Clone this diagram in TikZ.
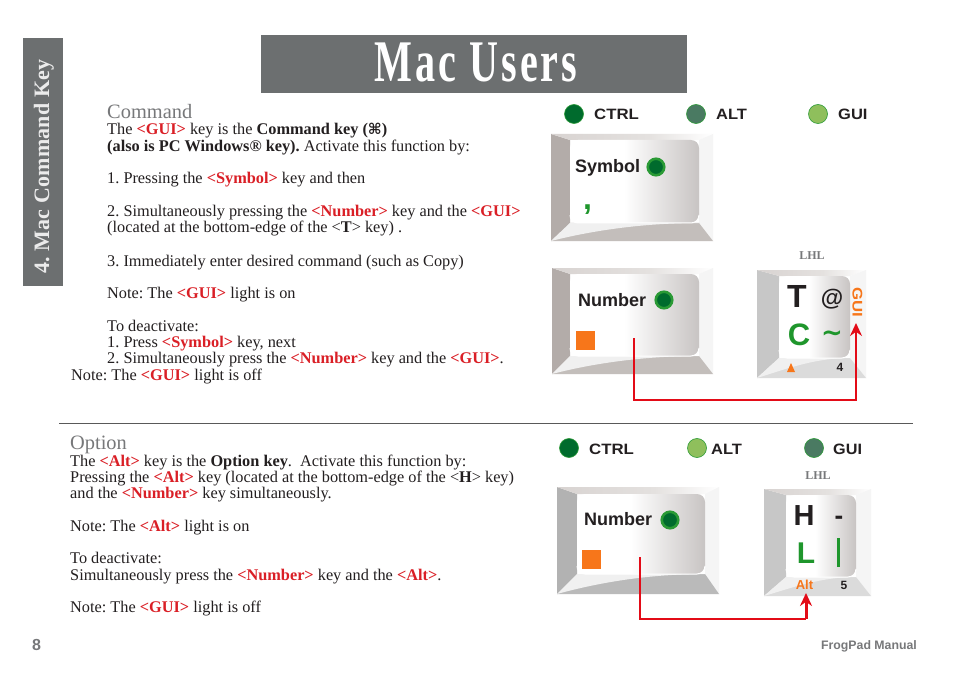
\documentclass[tikz,border=0pt]{standalone}
\usepackage{fontspec}
\usepackage{graphicx}
\setmainfont{Liberation Serif}
\setsansfont{Liberation Sans}
\newfontfamily\symfont{DejaVu Sans}
\usetikzlibrary{arrows.meta}
\AtBeginDocument{\frenchspacing}
\definecolor{ink}{HTML}{231F20}
\definecolor{redtxt}{HTML}{DA1F26}
\definecolor{barfill}{HTML}{6C6F70}
\definecolor{headgray}{HTML}{77787A}
\definecolor{ledframe}{HTML}{2A9A35}
\definecolor{leddark}{HTML}{006B2D}
\definecolor{ledmid}{HTML}{4A7A62}
\definecolor{ledlight}{HTML}{8FBF5C}
\definecolor{keygreen}{HTML}{1F962C}
\definecolor{keyorange}{HTML}{F7761A}
\definecolor{linkred}{HTML}{E30B17}
\definecolor{facegray}{HTML}{C8C4C3}
\definecolor{keyleft}{HTML}{B3ACA9}
\definecolor{keybottom}{HTML}{C3BEBB}
\definecolor{topa}{HTML}{D8D3D1}
\definecolor{topb}{HTML}{E4E1DF}
\pgfdeclarehorizontalshading{keyface}{100bp}{color(0bp)=(white); color(46bp)=(white); color(75bp)=(facegray); color(100bp)=(facegray)}
\pgfdeclarehorizontalshading{keytop}{100bp}{color(0bp)=(topa); color(25bp)=(topa); color(55bp)=(topb); color(75bp)=(white); color(100bp)=(white)}
\newcommand{\rd}[1]{\textcolor{redtxt}{\textbf{#1}}}
% outer x0 y0 x1 y1, inner ix0 iy0 ix1 iy1
\newcommand{\keycap}[8]{%
  \fill[keyleft] (#1,#2) -- (#5,#6) -- (#5,#8) -- (#1,#4) -- cycle;
  \shade[shading=keytop] (#1,#2) -- (#3,#2) -- (#7,#6) -- (#5,#6) -- cycle;
  \fill[white!96!black] (#3,#2) -- (#3,#4) -- (#7,#8) -- (#7,#6) -- cycle;
  \fill[keybottom] (#1,#4) -- (#3,#4) -- (#7,#8) -- (#5,#8) -- cycle;
  \fill[white!94!black] (#1,#4) -- (#5,#8) -- (#7,#8) .. controls ({#5+0.5*(#7-#5)},#8) and ({#5+0.1*(#7-#5)},{#8+0.55*(#4-#8)}) .. (#1,#4) -- cycle;
  \shade[shading=keyface,rounded corners=8pt] (#5,#6) rectangle (#7,#8);
  \draw[white,line width=1pt,rounded corners=8pt] (#5,#8-8) -- (#5,#8) -- (#7,#8) -- (#7,#8-8);
}
\tikzset{
  x=1pt,y=-1pt,
  body/.style={anchor=base west,inner sep=0pt,font=\fontsize{16.3}{17}\selectfont,text=ink},
  headtxt/.style={anchor=base west,inner sep=0pt,font=\fontsize{20.4}{22}\selectfont,text=headgray},
  ledlamp/.style={circle,minimum size=19pt,inner sep=0pt,draw=ledframe,line width=0.6pt,fill=#1},
  keyled/.style={circle,minimum size=16.5pt,inner sep=0pt,draw=ledframe,line width=2.6pt,fill=leddark},
  ledtxt/.style={anchor=base west,inner sep=0pt,font=\sffamily\bfseries\fontsize{15}{16}\selectfont,text=ink},
  keytxt/.style={anchor=base west,inner sep=0pt,font=\sffamily\bfseries\fontsize{18}{20}\selectfont,text=ink},
  lhltxt/.style={anchor=center,inner sep=0pt,font=\bfseries\fontsize{12}{12}\selectfont,text=headgray},
  legend/.style={anchor=center,inner sep=0pt,font=\sffamily\bfseries\fontsize{#1}{#1}\selectfont},
  orangebox/.style={fill=keyorange,inner sep=0pt,minimum size=19pt},
  link/.style={draw=linkred,line width=2pt,-{Stealth[length=13pt,width=12pt]}},
}
\begin{document}
\begin{tikzpicture}
\useasboundingbox (0,0) rectangle (954,682);
\fill[white] (0,0) rectangle (954,682);
% side tab and title
\fill[barfill] (23,38) rectangle (63,286);
\node[rotate=90,anchor=base west,inner sep=0pt,text=white!92!black,font=\bfseries\fontsize{22}{24}\selectfont\addfontfeature{LetterSpace=1}] (tab) at (49,274) {4. Mac Command Key};
\fill[barfill] (261,35) rectangle (687,93);
\node[inner sep=0pt,anchor=base,text=white,font=\bfseries\fontsize{59}{60}\selectfont\addfontfeature{LetterSpace=7.5}] (title) at (476,82) {\scalebox{0.68}[1]{Mac Users}};
% Command text
\node[headtxt] (h1) at (107,119) {Command};
\node[body] (t1) at (107,135) {The \rd{<GUI>} key is the \textbf{Command key (}{\symfont\bfseries\fontsize{15}{15}\selectfont ⌘}\textbf{)}};
\node[body] (t2) at (107,152) {\textbf{(also is PC Windows® key).} Activate this function by:};
\node[body] (t3) at (107,184) {1. Pressing the \rd{<Symbol>} key and then};
\node[body] (t4) at (107,217) {2. Simultaneously pressing the \rd{<Number>} key and the \rd{<GUI>}};
\node[body] (t5) at (107,233) {(located at the bottom-edge of the <\textbf{T}> key) .};
\node[body] (t6) at (107,266) {3. Immediately enter desired command (such as Copy)};
\node[body] (t7) at (107,298) {Note: The \rd{<GUI>} light is on};
\node[body] (t8) at (107,331) {To deactivate:};
\node[body] (t9) at (107,347) {1. Press \rd{<Symbol>} key, next};
\node[body] (t10) at (107,363) {2. Simultaneously press the \rd{<Number>} key and the \rd{<GUI>}.};
\node[body] (t11) at (71,380) {Note: The \rd{<GUI>} light is off};
% rule
\draw[black!65,line width=0.8pt] (59,423.5) -- (913,423.5);
% Option text
\node[headtxt] (h2) at (70,449) {Option};
\node[body] (o1) at (70,466) {The \rd{<Alt>} key is the \textbf{Option key}.\ \ Activate this function by:};
\node[body] (o2) at (70,482) {Pressing the \rd{<Alt>} key (located at the bottom-edge of the <\textbf{H}> key)};
\node[body] (o3) at (70,498) {and the \rd{<Number>} key simultaneously.};
\node[body] (o4) at (70,531) {Note: The \rd{<Alt>} light is on};
\node[body] (o5) at (70,580) {Simultaneously press the \rd{<Number>} key and the \rd{<Alt>}.};
\node[body] (o6) at (70,563) {To deactivate:};
\node[body] (o7) at (70,612) {Note: The \rd{<GUI>} light is off};
% footer
\node[inner sep=0pt,anchor=base west,text=headgray,font=\sffamily\bfseries\fontsize{16}{16}\selectfont] (pg) at (32,650) {8};
\node[inner sep=0pt,anchor=base east,text=headgray,font=\sffamily\bfseries\fontsize{12.3}{13}\selectfont] (fp) at (917,649) {FrogPad Manual};
% indicator row 1
\node[ledlamp=leddark] (l1) at (574,114) {};
\node[ledtxt] (l1t) at (594,120) {\scalebox{1.12}[1]{CTRL}};
\node[ledlamp=ledmid] (l2) at (696,114) {};
\node[ledtxt] (l2t) at (716,120) {\scalebox{1.1}[1]{ALT}};
\node[ledlamp=ledlight] (l3) at (818,114) {};
\node[ledtxt] (l3t) at (838,120) {\scalebox{1.1}[1]{GUI}};
% indicator row 2
\node[ledlamp=leddark] (m1) at (569,448) {};
\node[ledtxt] (m1t) at (589,454) {\scalebox{1.12}[1]{CTRL}};
\node[ledlamp=ledlight] (m2) at (697,448) {};
\node[ledtxt] (m2t) at (711,454) {\scalebox{1.1}[1]{ALT}};
\node[ledlamp=ledmid] (m3) at (814,448) {};
\node[ledtxt] (m3t) at (833,454) {\scalebox{1.08}[1]{GUI}};
% Symbol key
\keycap{551}{134}{713}{241}{570}{140}{699}{223}
\node[keytxt] (symt) at (575,173) {Symbol};
\node[keyled] (symled) at (656,167) {};
\node[anchor=center,inner sep=0pt,text=keygreen,font=\sffamily\bfseries\fontsize{32}{32}\selectfont] (comma) at (587.5,209.5) {,};
% Number key A
\keycap{552}{268}{713}{374}{570}{274}{699}{356}
\node[keytxt] (numt) at (578,306) {Number};
\node[keyled] (numled) at (664,300) {};
\node[orangebox] (numsq) at (585.5,340) {};
% T key
\colorlet{keyleft}{black!22}\colorlet{keybottom}{black!14}
\keycap{757}{270}{866}{378}{779}{276}{850}{358}
\node[anchor=base,inner sep=0pt,text=ink,font=\sffamily\bfseries\fontsize{32}{32}\selectfont] (kT) at (797,307) {T};
\node[legend=23,text=ink] (kAt) at (832,299) {@};
\node[anchor=base,inner sep=0pt,text=keygreen,font=\sffamily\bfseries\fontsize{31}{32}\selectfont] (kC) at (799,345) {C};
\node[legend=26,text=keygreen] (kTi) at (832,336) {\symfont\bfseries \char"7E};
\node[legend=14,text=keyorange,rotate=-90] (kG) at (857.5,302) {\scalebox{1.2}[1]{GUI}};
\fill[keyorange] (787,372) -- (795,372) -- (791,363) -- cycle;
\node[legend=12,text=ink] (k4) at (840,367.5) {4};
% Number key B
\colorlet{keyleft}{black!30}\colorlet{keybottom}{black!27}
\keycap{557}{487}{719}{594}{577}{494}{705}{574}
\node[keytxt] (numbt) at (584,525) {Number};
\node[keyled] (numbled) at (670,520) {};
\node[orangebox] (numbsq) at (591,559.5) {};
% H key
\colorlet{keyleft}{black!22}\colorlet{keybottom}{black!14}
\keycap{764}{489}{871}{596}{786}{495}{856}{577}
\node[anchor=base,inner sep=0pt,text=ink,font=\sffamily\bfseries\fontsize{29}{32}\selectfont] (kH) at (804,525) {H};
\node[anchor=base,inner sep=0pt,text=ink,font=\sffamily\bfseries\fontsize{26}{26}\selectfont] (kD) at (839,524) {-};
\node[anchor=base,inner sep=0pt,text=keygreen,font=\sffamily\bfseries\fontsize{30}{32}\selectfont] (kL) at (806,563) {L};
\fill[keygreen] (837,538) rectangle (840,567);
\node[legend=13,text=keyorange] (kAlt) at (804.5,585) {Alt};
\node[legend=12,text=ink] (k5) at (844,585) {5};
% LHL labels
\node[lhltxt] (lhl1) at (812,256) {LHL};
\node[lhltxt] (lhl2) at (818,476) {LHL};
% connectors
\coordinate (a0) at (634,338);
\coordinate (a1) at (634,400);
\coordinate (a2) at (856,323);
\draw[link] (a0) -- (a1) -| (a2);
\coordinate (b0) at (640,557);
\coordinate (b1) at (640,619);
\coordinate (b3) at (806,619);
\coordinate (b2) at (806,593);
\draw[link,-] (b0) -- (b1) -- (b3);
\draw[link,line width=3pt] (b3) -- (b2);
\end{tikzpicture}
\end{document}
